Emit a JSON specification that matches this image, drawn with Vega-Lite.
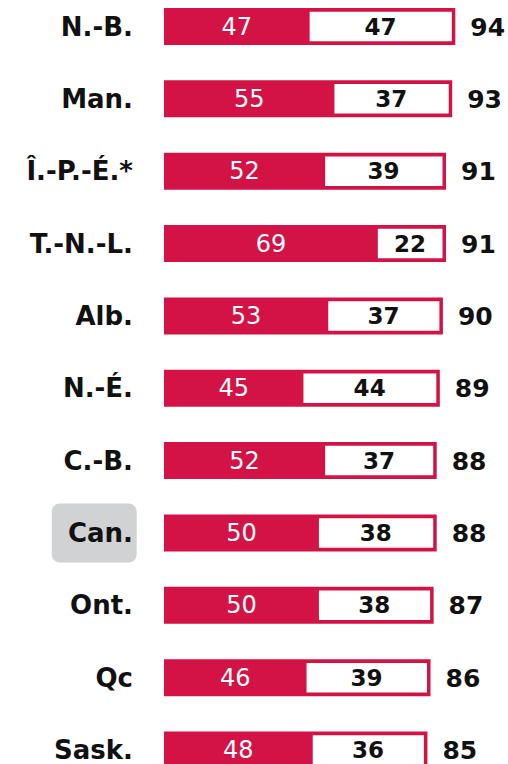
{
  "$schema": "https://vega.github.io/schema/vega-lite/v6.json",
  "width": 508,
  "height": 764,
  "padding": 0,
  "autosize": {"type": "none"},
  "background": "white",
  "config": {"view": {"stroke": null}},
  "data": {
    "values": [
      {"region": "N.-B.", "a": 47, "b": 47, "total": 94},
      {"region": "Man.", "a": 55, "b": 37, "total": 93},
      {"region": "Î.-P.-É.*", "a": 52, "b": 39, "total": 91},
      {"region": "T.-N.-L.", "a": 69, "b": 22, "total": 91},
      {"region": "Alb.", "a": 53, "b": 37, "total": 90},
      {"region": "N.-É.", "a": 45, "b": 44, "total": 89},
      {"region": "C.-B.", "a": 52, "b": 37, "total": 88},
      {"region": "Can.", "a": 50, "b": 38, "total": 88},
      {"region": "Ont.", "a": 50, "b": 38, "total": 87},
      {"region": "Qc", "a": 46, "b": 39, "total": 86},
      {"region": "Sask.", "a": 48, "b": 36, "total": 85}
    ]
  },
  "resolve": {"scale": {"x": "independent"}},
  "encoding": {
    "y": {
      "field": "region",
      "type": "nominal",
      "sort": ["N.-B.", "Man.", "Î.-P.-É.*", "T.-N.-L.", "Alb.", "N.-É.", "C.-B.", "Can.", "Ont.", "Qc", "Sask."],
      "scale": {"type": "point", "range": [26.5, 750], "padding": 0},
      "axis": null
    }
  },
  "layer": [
    {
      "transform": [{"filter": "datum.region === 'Can.'"}],
      "mark": {"type": "bar", "height": 59, "cornerRadius": 8, "color": "#D1D2D4"},
      "encoding": {
        "x": {"datum": -36.2, "type": "quantitative", "scale": {"domain": [-52.9, 111], "nice": false, "zero": false}, "axis": null},
        "x2": {"datum": -8.8}
      }
    },
    {
      "mark": {"type": "bar", "height": 37, "color": "#D31245"},
      "encoding": {
        "x": {"field": "total", "type": "quantitative", "scale": {"domain": [-52.9, 111], "nice": false, "zero": false}, "axis": null},
        "x2": {"datum": 0}
      }
    },
    {
      "mark": {"type": "bar", "height": 29.5, "color": "#FFFFFF", "x2Offset": -3.5},
      "encoding": {
        "x": {"field": "a", "type": "quantitative", "scale": {"domain": [-52.9, 111], "nice": false, "zero": false}, "axis": null},
        "x2": {"field": "total"}
      }
    },
    {
      "mark": {"type": "text", "color": "#FFFFFF", "font": "DejaVu Sans", "fontSize": 24, "align": "center", "baseline": "middle", "dy": 1},
      "encoding": {
        "x": {"field": "a", "type": "quantitative", "scale": {"domain": [-105.8, 222], "nice": false, "zero": false}, "axis": null},
        "text": {"field": "a", "type": "quantitative"}
      }
    },
    {
      "transform": [
        {"fold": ["a", "total"], "as": ["edge", "pos"]},
        {"aggregate": [{"op": "mean", "field": "pos", "as": "mid"}, {"op": "max", "field": "b", "as": "b"}], "groupby": ["region"]}
      ],
      "mark": {"type": "text", "color": "#111111", "font": "DejaVu Sans", "fontWeight": "bold", "fontSize": 23, "align": "center", "baseline": "middle", "dx": -2, "dy": 1},
      "encoding": {
        "x": {"field": "mid", "type": "quantitative", "scale": {"domain": [-52.9, 111], "nice": false, "zero": false}, "axis": null},
        "text": {"field": "b", "type": "quantitative"}
      }
    },
    {
      "mark": {"type": "text", "color": "#111111", "font": "DejaVu Sans", "fontWeight": "bold", "fontSize": 25, "align": "left", "baseline": "middle", "dx": 15, "dy": 1},
      "encoding": {
        "x": {"field": "total", "type": "quantitative", "scale": {"domain": [-52.9, 111], "nice": false, "zero": false}, "axis": null},
        "text": {"field": "total", "type": "quantitative"}
      }
    },
    {
      "mark": {"type": "text", "color": "#111111", "font": "DejaVu Sans", "fontWeight": "bold", "fontSize": 26, "align": "right", "baseline": "middle", "dy": 1},
      "encoding": {
        "x": {"datum": -10, "type": "quantitative", "scale": {"domain": [-52.9, 111], "nice": false, "zero": false}, "axis": null},
        "text": {"field": "region", "type": "nominal"}
      }
    }
  ]
}
